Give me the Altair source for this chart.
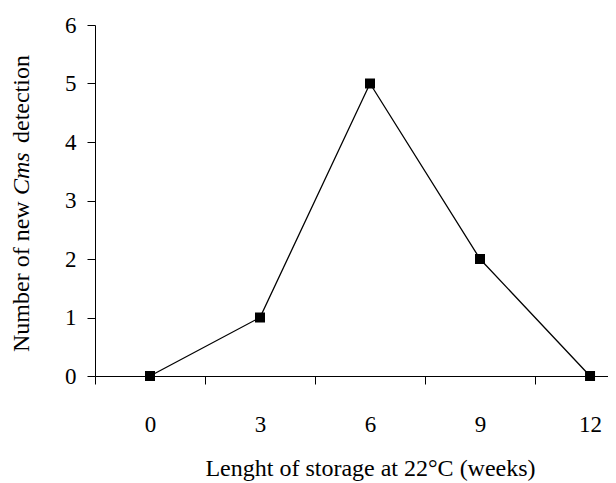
import altair as alt
import pandas as pd

weeks = [0, 3, 6, 9, 12]
detections = [0, 1, 5, 2, 0]
x_tick_labels = [0, 3, 6, 9, 12]
y_ticks = [0, 1, 2, 3, 4, 5, 6]

x_title = "Lenght of storage at 22°C (weeks)"
y_title_parts = ["Number of new", "Cms", "detection"]

df = pd.DataFrame({"weeks": weeks, "detections": detections})

FONT = "Liberation Serif"
LFS = 23
TFS = 24

x_scale = alt.Scale(domain=[-1.5, 12.49], nice=False, zero=False)
y_scale = alt.Scale(domain=[0, 6], nice=False)

x_axis = alt.Axis(
    values=x_tick_labels,
    tickOffset=-55,
    labelOffset=55,
    tickSize=8,
    labelPadding=29,
    grid=False,
    title=x_title,
    titleX=275,
    titleY=99,
    titleAnchor="start",
    titleAlign="center",
    titleBaseline="alphabetic",
)
y_axis = alt.Axis(
    values=y_ticks,
    tickSize=8,
    labelPadding=11,
    grid=False,
    title=None,
)

base = alt.Chart(df).encode(
    x=alt.X("weeks:Q", scale=x_scale, axis=x_axis),
    y=alt.Y("detections:Q", scale=y_scale, axis=y_axis),
)

line = base.mark_line(color="black", strokeWidth=1.3)
pts = base.mark_point(shape="square", size=100, filled=True, color="black", opacity=1)

one = pd.DataFrame({"a": [0]})
t1 = alt.Chart(one).mark_text(
    text=y_title_parts[0], angle=270, align="left", baseline="middle",
    font=FONT, fontSize=TFS, color="black",
).encode(x=alt.value(-73), y=alt.value(327))
t2 = alt.Chart(one).mark_text(
    text=y_title_parts[1], angle=270, align="left", baseline="middle",
    font=FONT, fontSize=TFS, fontStyle="italic", color="black",
).encode(x=alt.value(-73), y=alt.value(170))
t3 = alt.Chart(one).mark_text(
    text=y_title_parts[2], angle=270, align="left", baseline="middle",
    font=FONT, fontSize=TFS, color="black",
).encode(x=alt.value(-73), y=alt.value(118))

chart = alt.layer(line, pts, t1, t2, t3).properties(
    width=513,
    height=351,
    autosize=alt.AutoSizeParams(type="none"),
    padding={"left": 87, "top": 17, "right": 0, "bottom": 107},
).configure_view(stroke=None).configure_axis(
    domainColor="black",
    tickColor="black",
    labelColor="black",
    titleColor="black",
    labelFont=FONT,
    titleFont=FONT,
    labelFontSize=LFS,
    titleFontSize=TFS,
    titleFontWeight="normal",
    domainWidth=1,
    tickWidth=1,
)

chart.save("out.html", embed_options={"renderer": "svg", "actions": False})
